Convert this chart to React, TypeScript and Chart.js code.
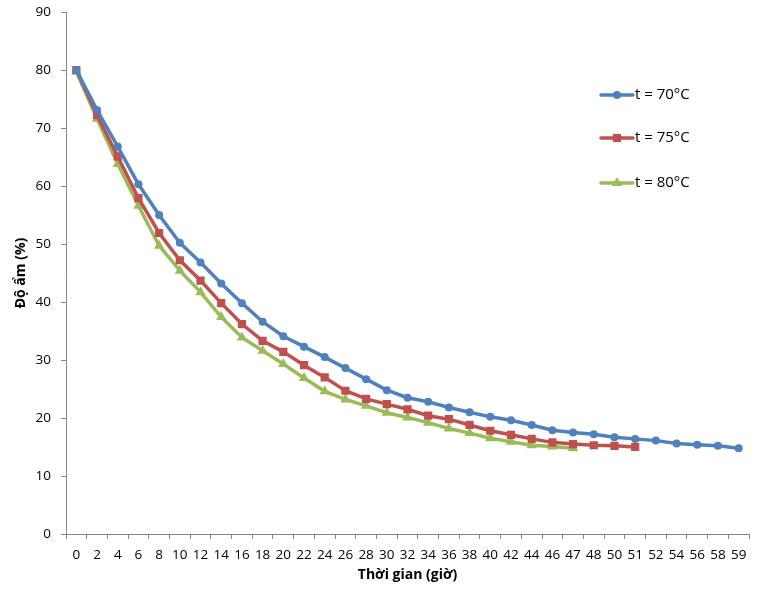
import { useEffect, useRef } from "react";
import { Chart, registerables } from "chart.js";

Chart.register(...registerables);

// thời gian sấy (giờ) - nhãn trục hoành
const hours = [
  "0", "2", "4", "6", "8", "10", "12", "14", "16", "18", "20", "22", "24", "26", "28", "30",
  "32", "34", "36", "38", "40", "42", "44", "46", "47", "48", "50", "51", "52", "54", "56", "58", "59",
];

const moisture70 = [
  80, 73.1, 66.8, 60.3, 55.0, 50.2, 46.8, 43.2, 39.8, 36.6, 34.1, 32.3, 30.5, 28.6, 26.7, 24.8,
  23.5, 22.8, 21.8, 21.0, 20.2, 19.6, 18.8, 17.9, 17.5, 17.2, 16.7, 16.4, 16.1, 15.6, 15.4, 15.2, 14.8,
];

const moisture75 = [
  80, 72.2, 65.1, 57.9, 51.9, 47.2, 43.7, 39.8, 36.2, 33.3, 31.4, 29.1, 27.0, 24.7, 23.3, 22.4,
  21.5, 20.4, 19.8, 18.8, 17.8, 17.1, 16.4, 15.8, 15.5, 15.3, 15.2, 15.0,
];

const moisture80 = [
  79.7, 71.6, 63.8, 56.6, 49.7, 45.4, 41.7, 37.4, 33.9, 31.6, 29.3, 26.9, 24.6, 23.2, 22.1, 20.9,
  20.1, 19.2, 18.2, 17.4, 16.5, 15.9, 15.3, 15.1, 14.8,
];

const seriesLabels = ["t = 70°C", "t = 75°C", "t = 80°C"];
const yTicks = [0, 10, 20, 30, 40, 50, 60, 70, 80, 90];

const FONT = "'Open Sans', 'Liberation Sans', sans-serif";
const AXIS_GREY = "#868686";

// legend tự vẽ, nằm đè lên vùng vẽ như trong Excel
const insideLegend = {
  id: "insideLegend",
  afterDraw(chart: any) {
    const ctx = chart.ctx;
    const rows = [95, 138, 183];
    ctx.save();
    chart.data.datasets.forEach((ds: any, i: number) => {
      const y = rows[i];
      ctx.strokeStyle = ds.borderColor;
      ctx.lineWidth = 3.5;
      ctx.lineCap = "round";
      ctx.beginPath();
      ctx.moveTo(601, y);
      ctx.lineTo(633, y);
      ctx.stroke();
      ctx.fillStyle = ds.borderColor;
      const r = ds.pointRadius;
      if (ds.pointStyle === "circle") {
        ctx.beginPath();
        ctx.arc(617, y, r, 0, Math.PI * 2);
        ctx.fill();
      } else if (ds.pointStyle === "rect") {
        const s = r * Math.SQRT1_2;
        ctx.fillRect(617 - s, y - s, 2 * s, 2 * s);
      } else {
        ctx.beginPath();
        ctx.moveTo(617, y - r);
        ctx.lineTo(617 + r * 0.866, y + r / 2);
        ctx.lineTo(617 - r * 0.866, y + r / 2);
        ctx.closePath();
        ctx.fill();
      }
      ctx.fillStyle = "#000";
      ctx.font = `15px ${FONT}`;
      ctx.textBaseline = "middle";
      ctx.textAlign = "left";
      ctx.fillText(ds.label, 635, y);
    });
    ctx.restore();
  },
};

export default function App() {
  const canvasRef = useRef<HTMLCanvasElement>(null);
  const chartRef = useRef<Chart | null>(null);

  useEffect(() => {
    if (!canvasRef.current) return;
    chartRef.current = new Chart(canvasRef.current, {
      type: "line",
      data: {
        labels: hours,
        datasets: [
          {
            label: seriesLabels[0],
            data: moisture70,
            borderColor: "#4F81BD",
            backgroundColor: "#4F81BD",
            borderWidth: 3.5,
            pointStyle: "circle",
            pointRadius: 4,
            pointBorderWidth: 0,
          },
          {
            label: seriesLabels[1],
            data: moisture75,
            borderColor: "#C0504D",
            backgroundColor: "#C0504D",
            borderWidth: 3.5,
            pointStyle: "rect",
            pointRadius: 5.8,
            pointBorderWidth: 0,
          },
          {
            label: seriesLabels[2],
            data: moisture80,
            borderColor: "#9BBB59",
            backgroundColor: "#9BBB59",
            borderWidth: 3.5,
            pointStyle: "triangle",
            pointRadius: 6,
            pointBorderWidth: 0,
          },
        ],
      },
      options: {
        animation: false,
        responsive: true,
        maintainAspectRatio: false,
        layout: { padding: { top: 12, right: 14, left: 0, bottom: 0 } },
        plugins: {
          legend: { display: false },
          tooltip: { enabled: false },
        },
        scales: {
          x: {
            type: "category",
            offset: true,
            grid: {
              offset: true,
              drawOnChartArea: false,
              drawTicks: true,
              tickLength: 5,
              color: AXIS_GREY,
            },
            border: { color: AXIS_GREY, width: 1 },
            ticks: {
              autoSkip: false,
              maxRotation: 0,
              padding: 8,
              color: "#000",
              font: { family: FONT, size: 13.5 },
            },
            title: {
              display: true,
              text: "Thời gian (giờ)",
              color: "#000",
              font: { family: FONT, size: 14, weight: "bold" },
              padding: { top: 4, bottom: 23 },
            },
            afterFit(scale: any) {
              scale.height = 606 - 534;
            },
          },
          y: {
            min: 0,
            max: 90,
            afterBuildTicks(scale: any) {
              scale.ticks = yTicks.map((v) => ({ value: v }));
            },
            grid: {
              drawOnChartArea: false,
              drawTicks: true,
              tickLength: 5,
              color: AXIS_GREY,
            },
            border: { color: AXIS_GREY, width: 1 },
            ticks: {
              padding: 10,
              color: "#000",
              font: { family: FONT, size: 13.5 },
            },
            title: {
              display: true,
              text: "Độ ẩm (%)",
              color: "#000",
              font: { family: FONT, size: 14, weight: "bold" },
              padding: { top: 13, bottom: 4 },
            },
            afterFit(scale: any) {
              scale.width = 66;
              // không để nhãn đầu/cuối đẩy vùng vẽ xuống
              scale.paddingTop = 0;
              scale.paddingBottom = 0;
            },
          },
        },
      },
      plugins: [insideLegend],
    });

    return () => chartRef.current?.destroy();
  }, []);

  return (
    <div style={{ position: "fixed", left: 0, top: 0, width: 763, height: 606, background: "#fff" }}>
      <canvas ref={canvasRef} />
    </div>
  );
}
